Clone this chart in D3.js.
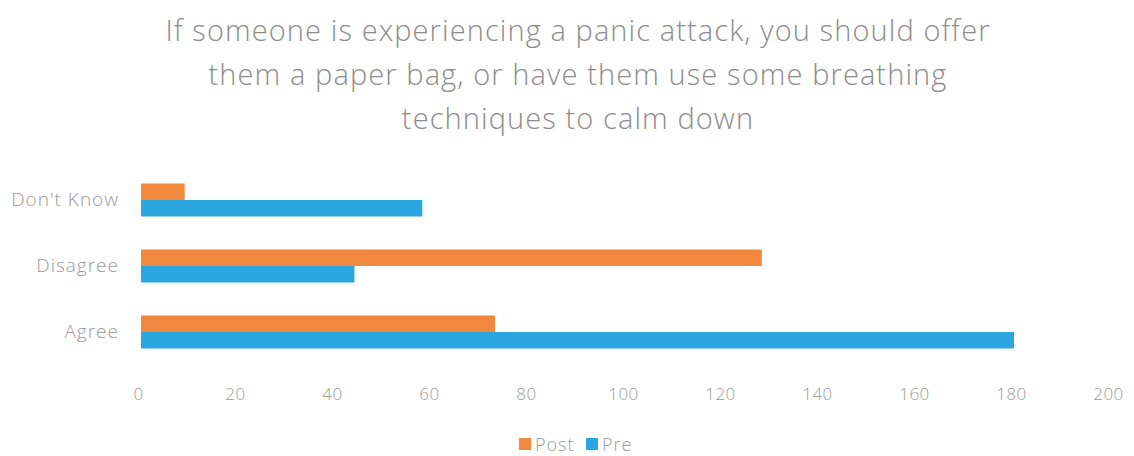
<!DOCTYPE html>
<html><head><meta charset="utf-8">
<script src="https://cdn.jsdelivr.net/npm/d3@7"></script>
<style>body{margin:0;background:#fff;} text{font-family:"Open Sans","Noto Sans",sans-serif;}</style>
</head><body>
<svg id="c" width="1134" height="456"></svg>
<script>
const categories = ["Don't Know", "Disagree", "Agree"];
const series = ["Post", "Pre"];
const postValues = [9, 128, 73];
const preValues = [58, 44, 180];
const xTicks = [0, 20, 40, 60, 80, 100, 120, 140, 160, 180, 200];
const titleLines = ["If someone is experiencing a panic attack, you should offer",
  "them a paper bag, or have them use some breathing",
  "techniques to calm down"];
const colors = {Post: "#F0883E", Pre: "#2BA6DE"};

const svg = d3.select("#c");
const data = categories.map((c, i) => ({cat: c, Post: postValues[i], Pre: preValues[i]}));

const x = d3.scaleLinear().domain([0, 200]).range([141, 1111]);
const y = d3.scaleBand().domain(categories).range([167, 365]).paddingInner(0.5).paddingOuter(0.25);
const y1 = d3.scaleBand().domain(series).range([0, y.bandwidth()]);

svg.append("g").selectAll("text").data(titleLines).join("text")
  .attr("x", 578).attr("y", (d, i) => 41 + i * 44)
  .attr("text-anchor", "middle").attr("font-size", 29).attr("font-weight", 300)
  .attr("letter-spacing", 1.1)
  .attr("fill", "#8c8c8c").text(d => d);

const g = svg.append("g");
g.selectAll("g").data(data).join("g")
  .attr("transform", d => `translate(0,${y(d.cat)})`)
  .selectAll("rect").data(d => series.map(s => ({s, v: d[s]}))).join("rect")
  .attr("x", x(0)).attr("y", d => y1(d.s)).attr("height", y1.bandwidth())
  .attr("width", d => x(d.v) - x(0)).attr("fill", d => colors[d.s]);

const xAxis = d3.axisBottom(x).tickValues(xTicks).tickSize(0).tickPadding(0);
const xa = svg.append("g").attr("transform", "translate(-3,388)").call(xAxis);
xa.select(".domain").remove();
xa.selectAll("text").attr("font-size", 17).attr("fill", "#9a9a9a").attr("font-weight", 300)
  .attr("letter-spacing", 0.5)
  .style("font-family", "'Open Sans','Noto Sans',sans-serif");

const yAxis = d3.axisLeft(y).tickSize(0).tickPadding(0);
const ya = svg.append("g").attr("transform", "translate(119,0)").call(yAxis);
ya.select(".domain").remove();
ya.selectAll("text").attr("font-size", 19).attr("fill", "#9a9a9a").attr("font-weight", 300)
  .attr("letter-spacing", 1)
  .style("font-family", "'Open Sans','Noto Sans',sans-serif");

const leg = svg.append("g");
const legX = {Post: 519, Pre: 586};
series.forEach(s => {
  leg.append("rect").attr("x", legX[s]).attr("y", 438).attr("width", 12).attr("height", 12).attr("fill", colors[s]);
  leg.append("text").attr("x", legX[s] + 16).attr("y", 451).attr("font-size", 18).attr("font-weight", 300)
    .attr("letter-spacing", 1)
    .attr("fill", "#9a9a9a").text(s);
});
</script>
</body></html>
